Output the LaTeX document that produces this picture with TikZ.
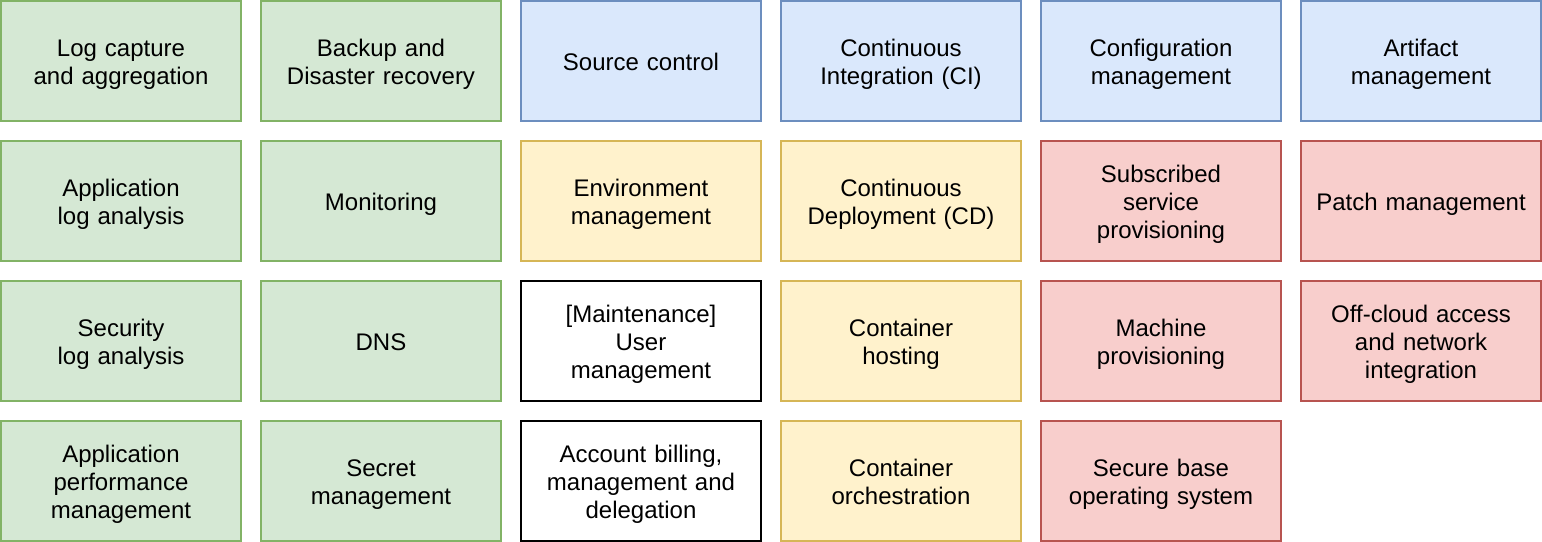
\documentclass[tikz,border=0pt]{standalone}
\usepackage{fontspec}
\setmainfont{Liberation Sans}
\usetikzlibrary{calc}
\definecolor{gfill}{HTML}{D5E8D4}\definecolor{gline}{HTML}{82B366}
\definecolor{bfill}{HTML}{DAE8FC}\definecolor{bline}{HTML}{6C8EBF}
\definecolor{yfill}{HTML}{FFF2CC}\definecolor{yline}{HTML}{D6B656}
\definecolor{rfill}{HTML}{F8CECC}\definecolor{rline}{HTML}{B85450}
\tikzset{
  box/.style={rectangle, minimum width=180pt, minimum height=90pt, line width=1.5pt, inner sep=0pt},
  txt/.style={align=center, inner sep=0pt, font=\fontsize{18pt}{21pt}\selectfont, text width=170pt,
    execute at begin node={\strut}, execute at end node={\strut}},
  gbox/.style={box, fill=gfill, draw=gline},
  bbox/.style={box, fill=bfill, draw=bline},
  ybox/.style={box, fill=yfill, draw=yline},
  rbox/.style={box, fill=rfill, draw=rline},
  wbox/.style={box, fill=white, draw=black},
}
\newcommand{\cell}[5]{%
  \node[#1] (#2) at (#3,#4) {};
  \node[txt] (#2t) at ($(#2.center)+(0,3.5)$) {#5};}
\begin{document}
\begin{tikzpicture}[x=0.75pt,y=-0.75pt]
\useasboundingbox (0,0) rectangle (1542,542);
% row 0
\cell{gbox}{n00}{121}{61}{Log capture\\and aggregation}
\cell{gbox}{n01}{381}{61}{Backup and\\Disaster recovery}
\cell{bbox}{n02}{641}{61}{Source control}
\cell{bbox}{n03}{901}{61}{Continuous\\Integration (CI)}
\cell{bbox}{n04}{1161}{61}{Configuration\\management}
\cell{bbox}{n05}{1421}{61}{Artifact\\management}
% row 1
\cell{gbox}{n10}{121}{201}{Application\\log analysis}
\cell{gbox}{n11}{381}{201}{Monitoring}
\cell{ybox}{n12}{641}{201}{Environment\\management}
\cell{ybox}{n13}{901}{201}{Continuous\\Deployment (CD)}
\cell{rbox}{n14}{1161}{201}{Subscribed\\service\\provisioning}
\cell{rbox}{n15}{1421}{201}{Patch management}
% row 2
\cell{gbox}{n20}{121}{341}{Security\\log analysis}
\cell{gbox}{n21}{381}{341}{DNS}
\cell{wbox}{n22}{641}{341}{[Maintenance]\\User\\management}
\cell{ybox}{n23}{901}{341}{Container\\hosting}
\cell{rbox}{n24}{1161}{341}{Machine\\provisioning}
\cell{rbox}{n25}{1421}{341}{Off-cloud access\\and network\\integration}
% row 3
\cell{gbox}{n30}{121}{481}{Application\\performance\\management}
\cell{gbox}{n31}{381}{481}{Secret\\management}
\cell{wbox}{n32}{641}{481}{Account billing,\\management and\\delegation}
\cell{ybox}{n33}{901}{481}{Container\\orchestration}
\cell{rbox}{n34}{1161}{481}{Secure base\\operating system}
\end{tikzpicture}
\end{document}
